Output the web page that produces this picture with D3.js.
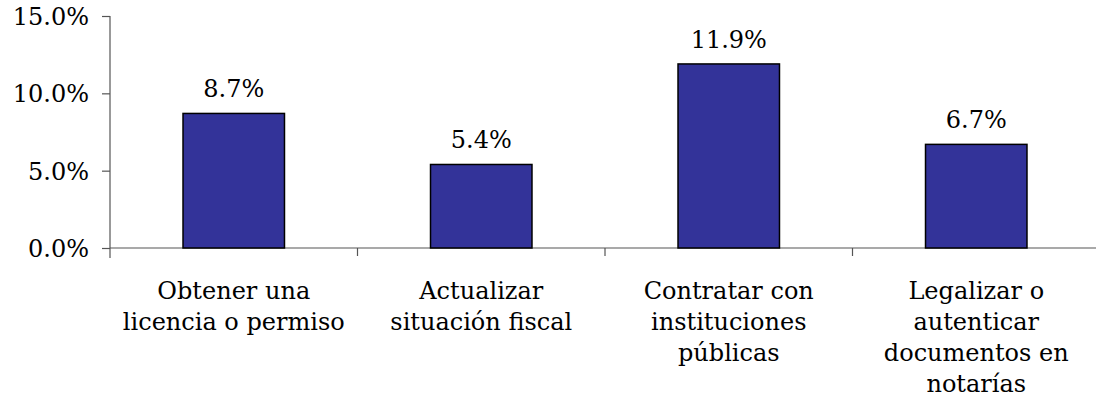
<!DOCTYPE html>
<html>
<head>
<meta charset="utf-8">
<script src="https://cdn.jsdelivr.net/npm/d3@7"></script>
<style>
  body { margin: 0; background: #fff; }
  svg text { font-family: "DejaVu Serif", serif; fill: #000; }
  .axis path, .axis line { stroke: #555; stroke-width: 1.2; }
</style>
</head>
<body>
<div id="chart"></div>
<script>
var categories = [
  ["Obtener una", "licencia o permiso"],
  ["Actualizar", "situación fiscal"],
  ["Contratar con", "instituciones", "públicas"],
  ["Legalizar o", "autenticar", "documentos en", "notarías"]
];
var values = [8.7, 5.4, 11.9, 6.7];
var yTicks = [0, 5, 10, 15];

var width = 1096, height = 411;
var x0 = 110, x1 = 1100, yBase = 248, yTop = 16;

var svg = d3.select("#chart").append("svg")
  .attr("width", width)
  .attr("height", height);

var x = d3.scaleBand()
  .domain(d3.range(values.length))
  .range([x0, x1])
  .paddingInner(0.59)
  .paddingOuter(0.295);

var xb = d3.scaleBand().domain(d3.range(values.length)).range([x0, x1]);

var y = d3.scaleLinear().domain([0, 15]).range([yBase, yTop]);

// y axis
var yAxis = svg.append("g")
  .attr("class", "axis")
  .attr("transform", "translate(" + x0 + ",0)")
  .call(d3.axisLeft(y).tickValues(yTicks).tickSizeOuter(0).tickSize(8).tickPadding(13)
    .tickFormat(function(d) { return d.toFixed(1) + "%"; }));
yAxis.selectAll("text").style("font-size", "24px").attr("dy", "0.35em");
yAxis.select(".domain").attr("d", "M0," + yTop + "V" + (yBase + 10));

// x axis line + category ticks
var xAxis = svg.append("g").attr("class", "axis");
xAxis.append("line")
  .attr("x1", x0).attr("x2", x1)
  .attr("y1", yBase).attr("y2", yBase);
xAxis.selectAll("line.tick")
  .data(d3.range(1, values.length))
  .enter().append("line")
  .attr("class", "tick")
  .attr("x1", function(d) { return xb(d); })
  .attr("x2", function(d) { return xb(d); })
  .attr("y1", yBase).attr("y2", yBase + 8);

// bars
svg.append("g").selectAll("rect")
  .data(values)
  .enter().append("rect")
  .attr("x", function(d, i) { return x(i); })
  .attr("y", function(d) { return y(d); })
  .attr("width", x.bandwidth())
  .attr("height", function(d) { return yBase - y(d); })
  .attr("fill", "#333399")
  .attr("stroke", "#000")
  .attr("stroke-width", 1.5);

// value labels
svg.append("g").selectAll("text")
  .data(values)
  .enter().append("text")
  .attr("x", function(d, i) { return x(i) + x.bandwidth() / 2; })
  .attr("y", function(d) { return y(d) - 16; })
  .attr("text-anchor", "middle")
  .style("font-size", "24px")
  .text(function(d) { return d.toFixed(1) + "%"; });

// category labels
var cat = svg.append("g").selectAll("text")
  .data(categories)
  .enter().append("text")
  .attr("text-anchor", "middle")
  .style("font-size", "24px")
  .attr("transform", function(d, i) { return "translate(" + (xb(i) + xb.bandwidth() / 2) + ",299)"; });
cat.selectAll("tspan")
  .data(function(d) { return d; })
  .enter().append("tspan")
  .attr("x", 0)
  .attr("y", function(d, j) { return j * 31; })
  .text(function(d) { return d; });
</script>
</body>
</html>
